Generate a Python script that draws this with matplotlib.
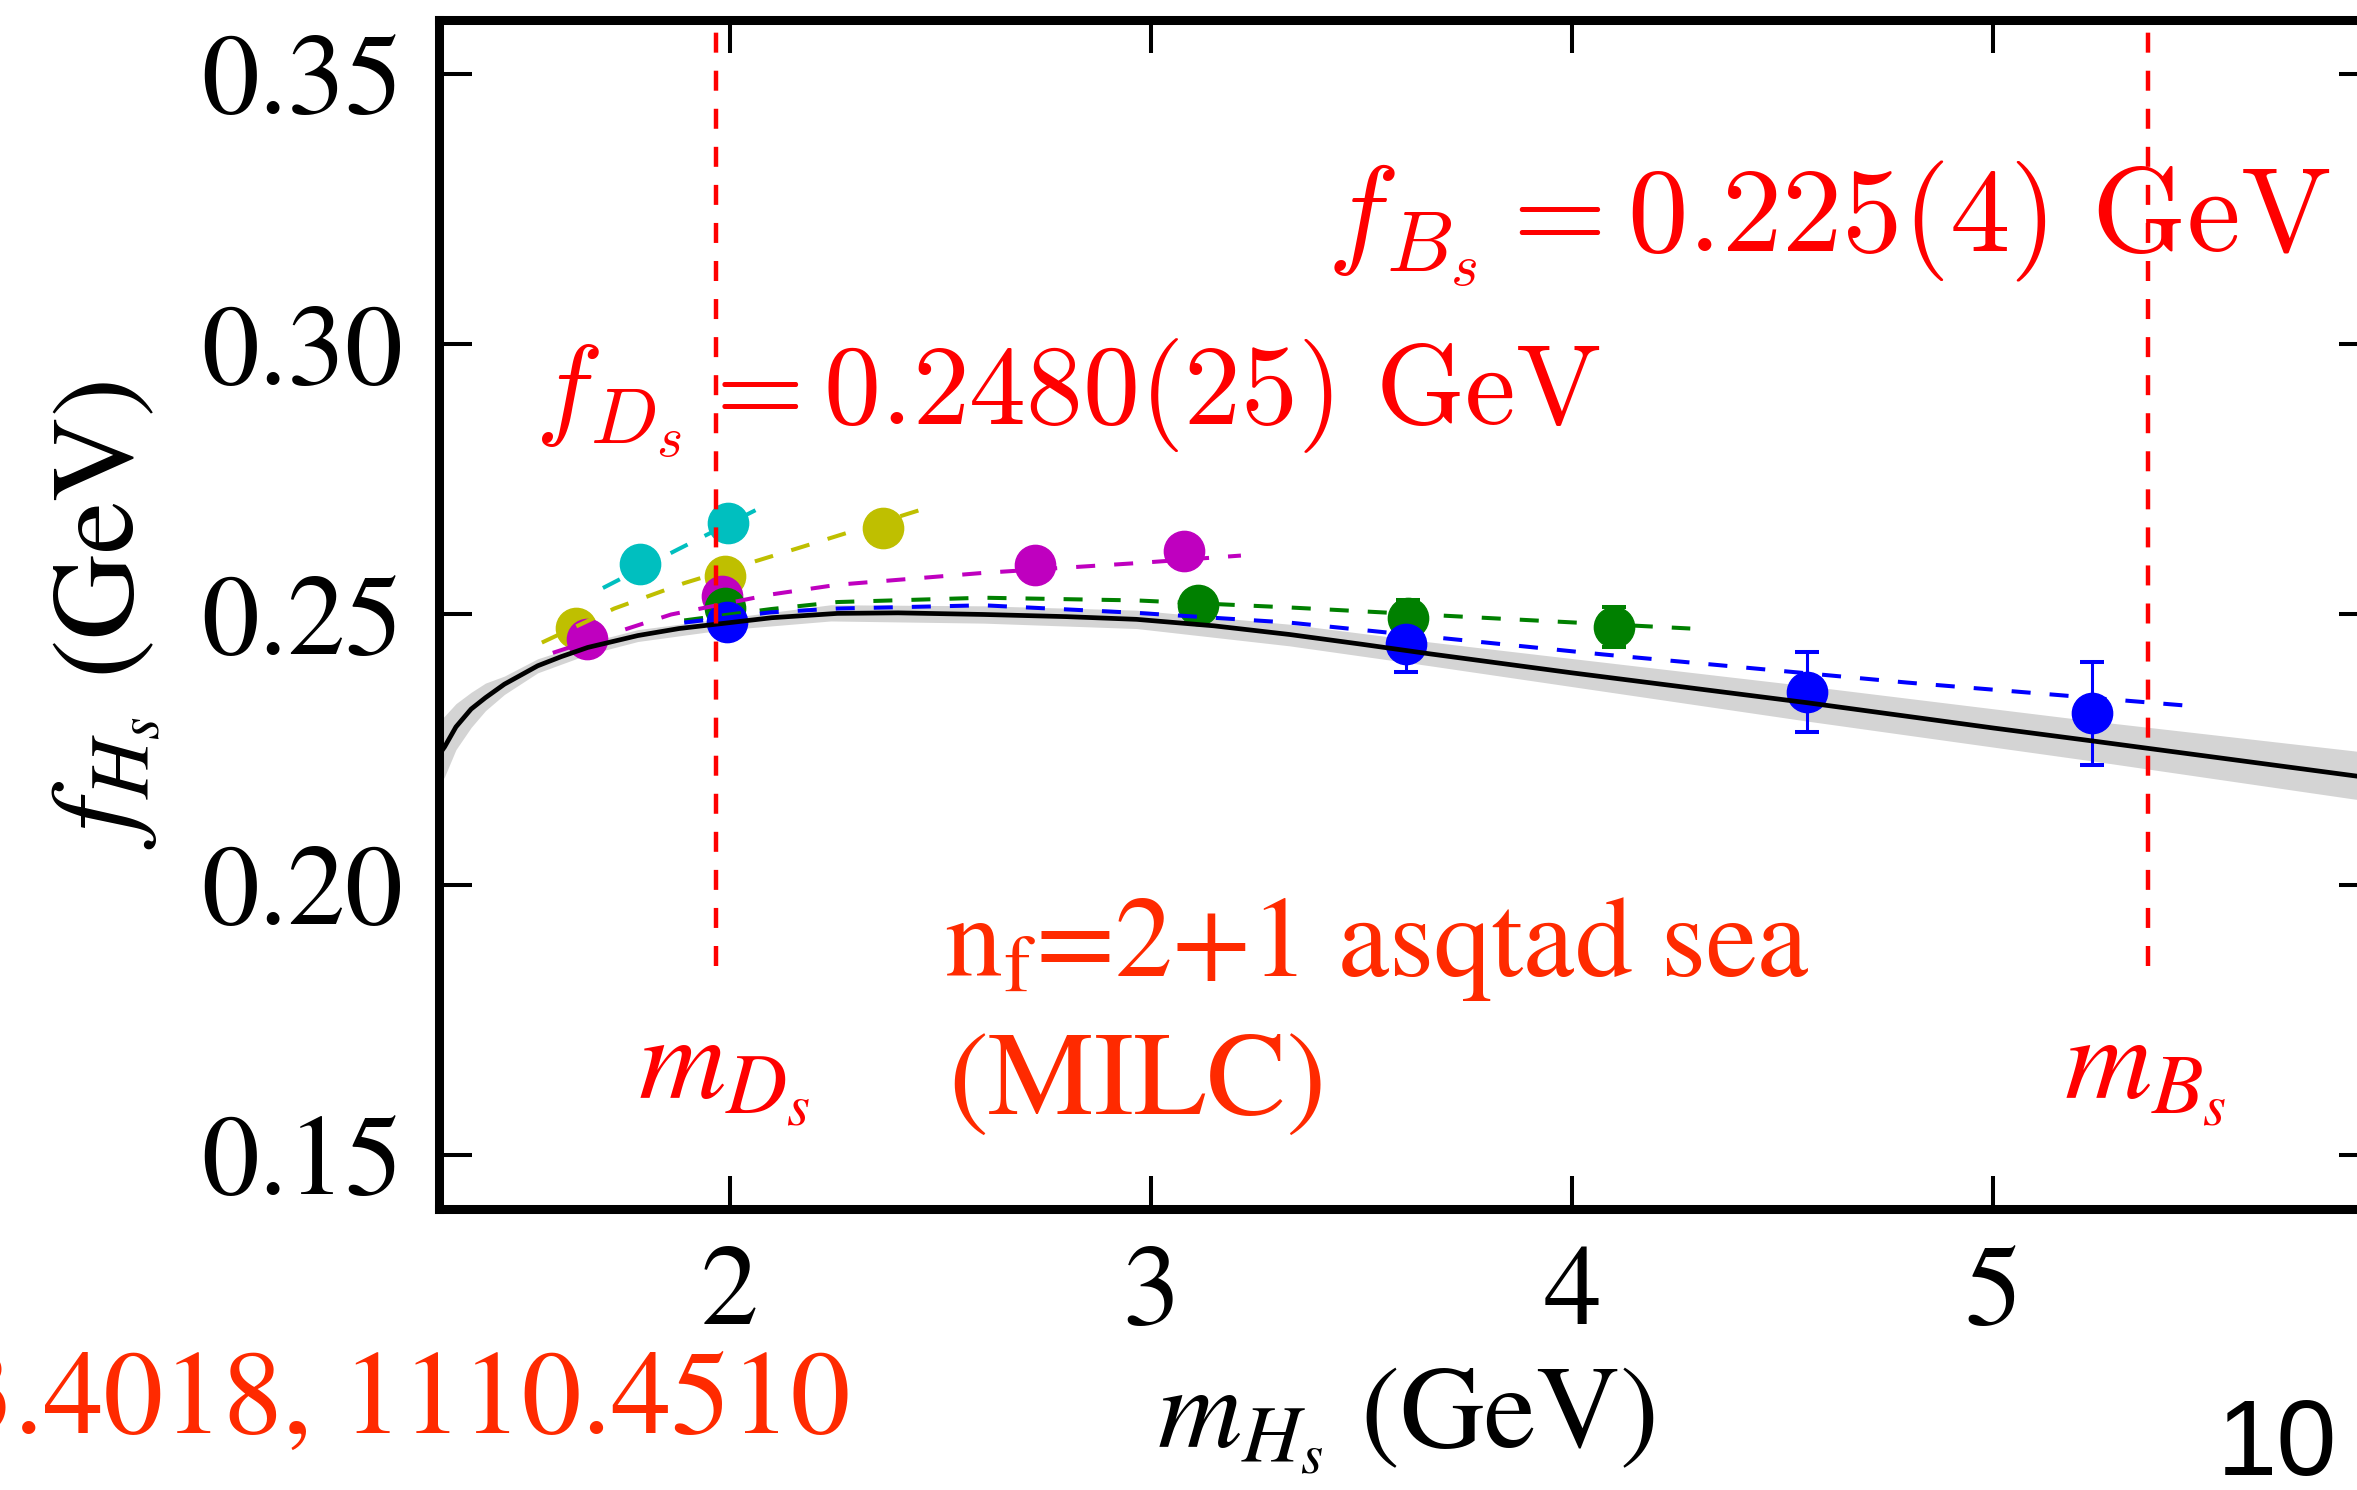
import numpy as np
import matplotlib.pyplot as plt

plt.rcParams['font.family'] = 'STIXGeneral'
plt.rcParams['mathtext.fontset'] = 'stix'
plt.rcParams['lines.scale_dashes'] = False

# physical masses (GeV)
m_Ds = 1.968
m_Bs = 5.367

# lattice data, one set per ensemble colour
cyan_m = [1.788, 1.996]
cyan_f = [0.2594, 0.2670]
cyan_e = [0.0010, 0.0010]

yel_m = [1.635, 1.988, 2.364]
yel_f = [0.2475, 0.2572, 0.2660]
yel_e = [0.0010, 0.0010, 0.0012]

mag_m = [1.661, 1.982, 2.724, 3.079]
mag_f = [0.2455, 0.2534, 0.2591, 0.2617]
mag_e = [0.0010, 0.0010, 0.0012, 0.0015]

grn_m = [1.988, 3.112, 3.611, 4.099]
grn_f = [0.2512, 0.2517, 0.2494, 0.2477]
grn_e = [0.0010, 0.0015, 0.0033, 0.0037]

blu_m = [1.993, 3.606, 4.559, 5.236]
blu_f = [0.2487, 0.2446, 0.2357, 0.2317]
blu_e = [0.0010, 0.0053, 0.0074, 0.0095]

# fit curves per ensemble
cyan_fit_m = [1.699, 1.876, 2.064]
cyan_fit_f = [0.2549, 0.2620, 0.2694]
yel_fit_m = [1.554, 1.726, 1.892, 2.176, 2.455]
yel_fit_f = [0.2448, 0.2511, 0.2558, 0.2626, 0.2694]
mag_fit_m = [1.580, 1.861, 2.098, 2.256, 2.603, 2.966, 3.214]
mag_fit_f = [0.2429, 0.2500, 0.2537, 0.2555, 0.2577, 0.2595, 0.2609]
grn_fit_m = [1.892, 2.098, 2.256, 2.603, 2.966, 3.329, 3.836, 4.281]
grn_fit_f = [0.2489, 0.2510, 0.2523, 0.2531, 0.2526, 0.2513, 0.2492, 0.2474]
blu_fit_m = [1.892, 2.098, 2.256, 2.603, 2.966, 3.329, 4.075, 4.796, 5.465]
blu_fit_f = [0.2485, 0.2504, 0.2511, 0.2517, 0.2503, 0.2485, 0.2426, 0.2374, 0.2331]

# continuum / physical curve and its error band
phys_m = [1.300, 1.323, 1.350, 1.386, 1.420, 1.465, 1.544, 1.600, 1.663, 1.782,
          1.880, 1.979, 2.100, 2.256, 2.400, 2.603, 2.800, 2.966, 3.150, 3.329,
          3.500, 3.664, 4.000, 4.556, 5.000, 5.236, 5.853, 5.950]
phys_f = [0.2230, 0.2255, 0.2292, 0.2325, 0.2346, 0.2371, 0.2405, 0.2422, 0.2439, 0.2461,
          0.2474, 0.2483, 0.2494, 0.2502, 0.2503, 0.2500, 0.2496, 0.2491, 0.2479, 0.2463,
          0.2445, 0.2427, 0.2392, 0.2337, 0.2290, 0.2266, 0.2202, 0.2192]
band_m = [1.300, 1.323, 1.350, 1.386, 1.420, 1.465, 1.544, 1.663, 1.782, 1.979,
          2.240, 2.603, 2.966, 3.329, 3.664, 4.556, 5.236, 5.853, 5.950]
band_hi = [0.2295, 0.2312, 0.2335, 0.2356, 0.2373, 0.2386, 0.2418, 0.2448, 0.2472, 0.2492,
           0.2518, 0.2516, 0.2508, 0.2482, 0.2449, 0.2368, 0.2303, 0.2248, 0.2239]
band_lo = [0.2170, 0.2200, 0.2250, 0.2291, 0.2322, 0.2352, 0.2392, 0.2426, 0.2450, 0.2471,
           0.2488, 0.2484, 0.2474, 0.2442, 0.2405, 0.2303, 0.2229, 0.2159, 0.2149]

fig = plt.figure(figsize=(23.57, 14.90), dpi=100)
ax = fig.add_axes([0.1863, 0.1886, 1.0064 - 0.1863, 0.9866 - 0.1886])

ax.fill_between(band_m, band_lo, band_hi, color='0.83', lw=0, zorder=1)

sets = [(cyan_m, cyan_f, cyan_e, 'c'), (yel_m, yel_f, yel_e, 'y'),
        (mag_m, mag_f, mag_e, 'm'), (grn_m, grn_f, grn_e, 'g'),
        (blu_m, blu_f, blu_e, 'b')]
for m, f, e, c in sets:
    ax.errorbar(m, f, yerr=e, fmt='o', color=c, ms=29, elinewidth=2.2,
                capsize=8.6, capthick=2.9, zorder=3)

fits = [(cyan_fit_m, cyan_fit_f, 'c'), (yel_fit_m, yel_fit_f, 'y'),
        (mag_fit_m, mag_fit_f, 'm'), (grn_fit_m, grn_fit_f, 'g'),
        (blu_fit_m, blu_fit_f, 'b')]
for m, f, c in fits:
    ax.plot(m, f, color=c, lw=2.9, dashes=(13.7, 13.7), zorder=4)

ax.plot(phys_m, phys_f, color='k', lw=3.4, zorder=5)

for xm in (m_Ds, m_Bs):
    ax.plot([xm, xm], [0.185, 0.36], color='red', lw=3.2, dashes=(14.4, 13), zorder=6)

red2 = '#ff2a00'
ax.text(1.537, 0.2851, r'$f_{D_s} = 0.2480(25)\ \mathrm{GeV}$', color='red',
        fontsize=82, math_fontfamily='cm', va='baseline')
ax.text(3.419, 0.3170, r'$f_{B_s} = 0.225(4)\ \mathrm{GeV}$', color='red',
        fontsize=87, math_fontfamily='cm', va='baseline')
ax.text(2.51, 0.1832, r'n$_\mathrm{f}$=2+1 asqtad sea', color=red2, fontsize=83, va='baseline')
ax.text(2.52, 0.1574, '(MILC)', color=red2, fontsize=86, va='baseline')
ax.text(1.782, 0.1605, r'$m_{D_s}$', color='red', fontsize=87, va='baseline')
ax.text(5.169, 0.1605, r'$m_{B_s}$', color='red', fontsize=87, va='baseline')

ax.set_xlim(1.31, 5.9)
ax.set_ylim(0.14, 0.36)
ax.set_xticks([2, 3, 4, 5])
ax.set_yticks([0.15, 0.20, 0.25, 0.30, 0.35])
ax.set_yticklabels(['0.15', '0.20', '0.25', '0.30', '0.35'])
ax.tick_params(direction='in', length=24, width=2.9, top=True, right=True,
               labelsize=83, pad=26)
for s in ax.spines.values():
    s.set_linewidth(6.5)

ax.set_xlabel(r'$m_{H_s}$ (GeV)', fontsize=84, labelpad=12)
ax.set_ylabel(r'$f_{H_s}$ (GeV)', fontsize=85, labelpad=28)

fig.text(850 / 2357, 1 - 1433 / 1490, '3.4018, 1110.4510', color=red2, fontsize=86,
         ha='right', va='baseline')
fig.text(2337 / 2357, 1 - 1475 / 1490, '10', color='k', fontsize=78,
         family='Liberation Sans', ha='right', va='baseline')

fig.savefig('out.png', dpi=100)
